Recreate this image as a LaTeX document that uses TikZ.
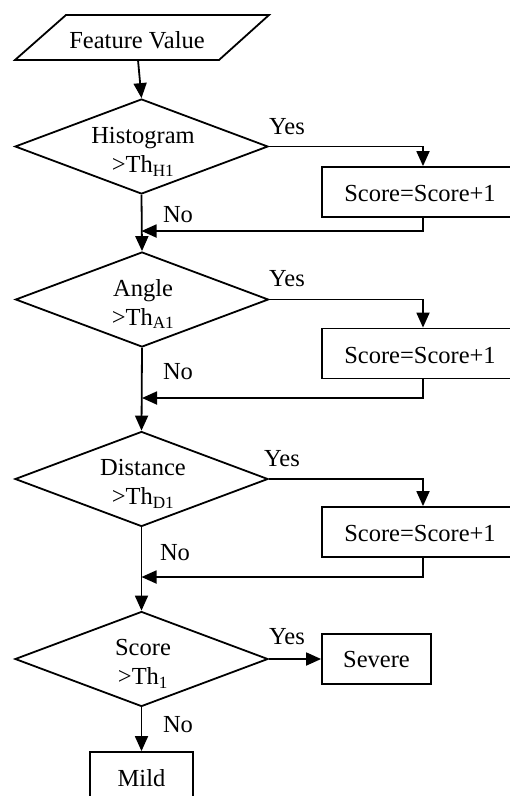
\documentclass[tikz,border=0pt]{standalone}
\usepackage{fontspec}
\setmainfont{Liberation Serif}
\usetikzlibrary{shapes.geometric,arrows.meta}
\begin{document}
\begin{tikzpicture}[x=1pt,y=-1pt,
  every node/.style={font=\fontsize{24.5}{29}\selectfont},
  ln/.style={line width=1.8pt},
  arr/.style={ln,-{Triangle[length=15pt,width=13pt]}},
  dia/.style={diamond,draw,ln,minimum width=253pt,minimum height=95pt,inner sep=0pt},
  boxx/.style={rectangle,draw,ln,inner sep=0pt},
  lbl/.style={inner sep=0pt,align=center}]
\useasboundingbox (0,0) rectangle (510,796);
\clip (0,0) rectangle (510,796);
% input
\draw[ln,line join=miter] (66,15) -- (269,15) -- (219,60) -- (15,60) -- cycle;
\node[lbl] (fv) at (137,40) {Feature Value};
\coordinate (fvb) at (138,60);
% decisions
\node[dia] (d1) at (141.5,146.5) {};
\node[lbl] (d1t) at (143,152) {Histogram\\>Th\textsubscript{H1}};
\node[dia] (d2) at (142,299.5) {};
\node[lbl] (d2t) at (143,304) {Angle\\>Th\textsubscript{A1}};
\node[dia] (d3) at (141.5,479) {};
\node[lbl] (d3t) at (143,484) {Distance\\>Th\textsubscript{D1}};
\node[dia] (d4) at (141.5,659) {};
\node[lbl] (d4t) at (143,664) {Score\\>Th\textsubscript{1}};
% boxes
\node[boxx,minimum width=202pt,minimum height=50pt] (s1) at (423,192) {};
\node[lbl] (s1t) at (420,194) {Score=Score+1};
\node[boxx,minimum width=202pt,minimum height=50pt] (s2) at (423,353.5) {};
\node[lbl] (s2t) at (420,355.5) {Score=Score+1};
\node[boxx,minimum width=202pt,minimum height=50pt] (s3) at (423,532) {};
\node[lbl] (s3t) at (420,534) {Score=Score+1};
\node[boxx,minimum width=109pt,minimum height=50pt] (sev) at (376.5,659) {Severe};
\node[boxx,minimum width=103pt,minimum height=52pt] (mild) at (141.5,778) {Mild};
% return points
\coordinate (r1) at (141.5,231);
\coordinate (r2) at (142,398);
\coordinate (r3) at (141.5,577);
% connectors
\draw[arr] (fvb) -- (d1.north);
\draw[arr] (d1.east) -| (s1.north);
\draw[arr] (s1.south) |- (r1);
\draw[arr] (d1.south) -- (d2.north);
\draw[arr] (d2.east) -| (s2.north);
\draw[arr] (s2.south) |- (r2);
\draw[arr] (d2.south) -- (d3.north);
\draw[arr] (d3.east) -| (s3.north);
\draw[arr] (s3.south) |- (r3);
\draw[arr] (d3.south) -- (d4.north);
\draw[arr] (d4.east) -- (sev.west);
\draw[arr] (d4.south) -- (mild.north);
% labels
\node[lbl] (y1) at (287,127) {Yes};
\node[lbl] (n1) at (178,215) {No};
\node[lbl] (y2) at (287,279) {Yes};
\node[lbl] (n2) at (178,372) {No};
\node[lbl] (y3) at (282,459) {Yes};
\node[lbl] (n3) at (175,553) {No};
\node[lbl] (y4) at (287,637) {Yes};
\node[lbl] (n4) at (178,725) {No};
\end{tikzpicture}
\end{document}
